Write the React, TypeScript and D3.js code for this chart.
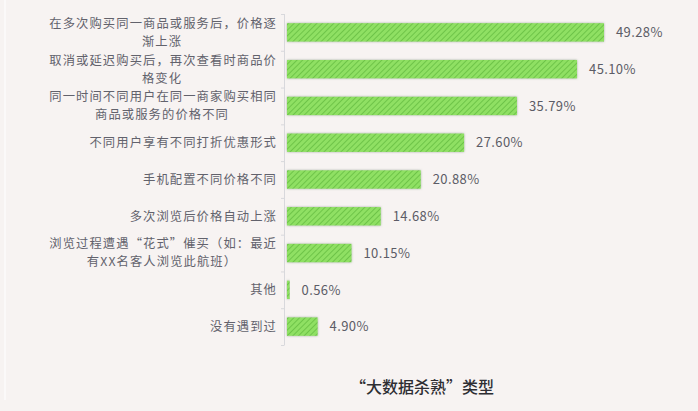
import React, { useEffect, useRef } from 'react';
import * as d3 from 'd3';

// categories, top to bottom (each entry is the wrapped lines of the label)
const categories: string[][] = [
  ['在多次购买同一商品或服务后，价格逐', '渐上涨'],
  ['取消或延迟购买后，再次查看时商品价', '格变化'],
  ['同一时间不同用户在同一商家购买相同', '商品或服务的价格不同'],
  ['不同用户享有不同打折优惠形式'],
  ['手机配置不同价格不同'],
  ['多次浏览后价格自动上涨'],
  ['浏览过程遭遇“花式”催买（如：最近', '有XX名客人浏览此航班）'],
  ['其他'],
  ['没有遇到过'],
];
const values = [49.28, 45.1, 35.79, 27.6, 20.88, 14.68, 10.15, 0.56, 4.9];
const valueLabels = ['49.28%', '45.10%', '35.79%', '27.60%', '20.88%', '14.68%', '10.15%', '0.56%', '4.90%'];
const title = '“大数据杀熟”类型';

const W = 698;
const H = 411;
const FONT = '"Noto Sans CJK SC", "Noto Sans", sans-serif';

const App = () => {
  const svgRef = useRef<SVGSVGElement>(null);

  useEffect(() => {
    const svg = d3.select(svgRef.current);
    svg.selectAll('*').remove();

    const x0 = 286;
    const xScale = d3.scaleLinear().domain([0, 49.28]).range([x0, 604]);
    const yScale = d3.scaleBand<number>()
      .domain(d3.range(values.length))
      .range([14, 345])
      .paddingInner(0.5)
      .paddingOuter(0.25);

    const defs = svg.append('defs');
    const pat = defs.append('pattern')
      .attr('id', 'hatch')
      .attr('patternUnits', 'userSpaceOnUse')
      .attr('width', 4)
      .attr('height', 4)
      .attr('patternTransform', 'rotate(45)');
    pat.append('rect').attr('width', 4).attr('height', 4).attr('fill', '#8fe063');
    pat.append('line')
      .attr('x1', 0).attr('y1', 0).attr('x2', 0).attr('y2', 4)
      .attr('stroke', '#5fb83e').attr('stroke-width', 1.4);

    const shadow = defs.append('filter').attr('id', 'shadow')
      .attr('x', '-10%').attr('y', '-40%').attr('width', '120%').attr('height', '180%');
    shadow.append('feDropShadow')
      .attr('dx', 0).attr('dy', 0).attr('stdDeviation', 1.2)
      .attr('flood-color', '#6a7a6a').attr('flood-opacity', 0.6);

    svg.append('rect').attr('width', W).attr('height', H).attr('fill', '#f7f3f2');
    svg.append('line')
      .attr('x1', 5).attr('x2', 5).attr('y1', 0).attr('y2', 400)
      .attr('stroke', '#fbf9f9').attr('stroke-width', 2);

    // axis
    const axisStep = yScale.step();
    svg.append('line')
      .attr('x1', x0 - 1.5).attr('x2', x0 - 1.5)
      .attr('y1', 14).attr('y2', 345)
      .attr('stroke', '#d8d8dc').attr('stroke-width', 1);
    svg.selectAll('.tick')
      .data(d3.range(values.length + 1))
      .enter()
      .append('line')
      .attr('x1', x0 - 5).attr('x2', x0 - 1.5)
      .attr('y1', d => 14 + d * axisStep + 0.5)
      .attr('y2', d => 14 + d * axisStep + 0.5)
      .attr('stroke', '#d8d8dc');

    // bars
    svg.selectAll('.bar')
      .data(values)
      .enter()
      .append('rect')
      .attr('x', x0 + 1)
      .attr('y', (d, i) => yScale(i)!)
      .attr('width', d => Math.max(xScale(d) - x0 - 1, 1.5))
      .attr('height', yScale.bandwidth())
      .attr('fill', 'url(#hatch)')
      .attr('filter', 'url(#shadow)');

    // value labels
    svg.selectAll('.val')
      .data(values)
      .enter()
      .append('text')
      .attr('x', d => xScale(d) + 12)
      .attr('y', (d, i) => yScale(i)! + yScale.bandwidth() / 2)
      .attr('dy', '0.36em')
      .attr('font-family', FONT)
      .attr('font-size', 13)
      .attr('letter-spacing', 0.4)
      .attr('fill', '#5c5c66')
      .text((d, i) => valueLabels[i]);

    // category labels
    const lineH = 18;
    const labelRight = 276;
    const blockLeft = 48;
    categories.forEach((lines, i) => {
      const cy = yScale(i)! + yScale.bandwidth() / 2;
      const multi = lines.length > 1;
      lines.forEach((ln, j) => {
        svg.append('text')
          .attr('x', multi ? (j === 0 ? labelRight + 1 : (blockLeft + labelRight) / 2) : labelRight + 1)
          .attr('y', cy + (j - (lines.length - 1) / 2) * lineH)
          .attr('dy', '0.36em')
          .attr('text-anchor', multi && j > 0 ? 'middle' : 'end')
          .attr('font-family', FONT)
          .attr('font-size', 12.3)
          .attr('letter-spacing', 1.1)
          .attr('fill', '#62626c')
          .text(ln);
      });
    });

    // title
    svg.append('text')
      .attr('x', 350)
      .attr('y', 387)
      .attr('dy', '0.36em')
      .attr('font-family', FONT)
      .attr('font-size', 16)
      .attr('font-weight', 500)
      .attr('fill', '#2e2e33')
      .text(title);
  }, []);

  return (
    <svg ref={svgRef} width={W} height={H} style={{ position: 'absolute', left: 0, top: 0 }} />
  );
};

export default App;
